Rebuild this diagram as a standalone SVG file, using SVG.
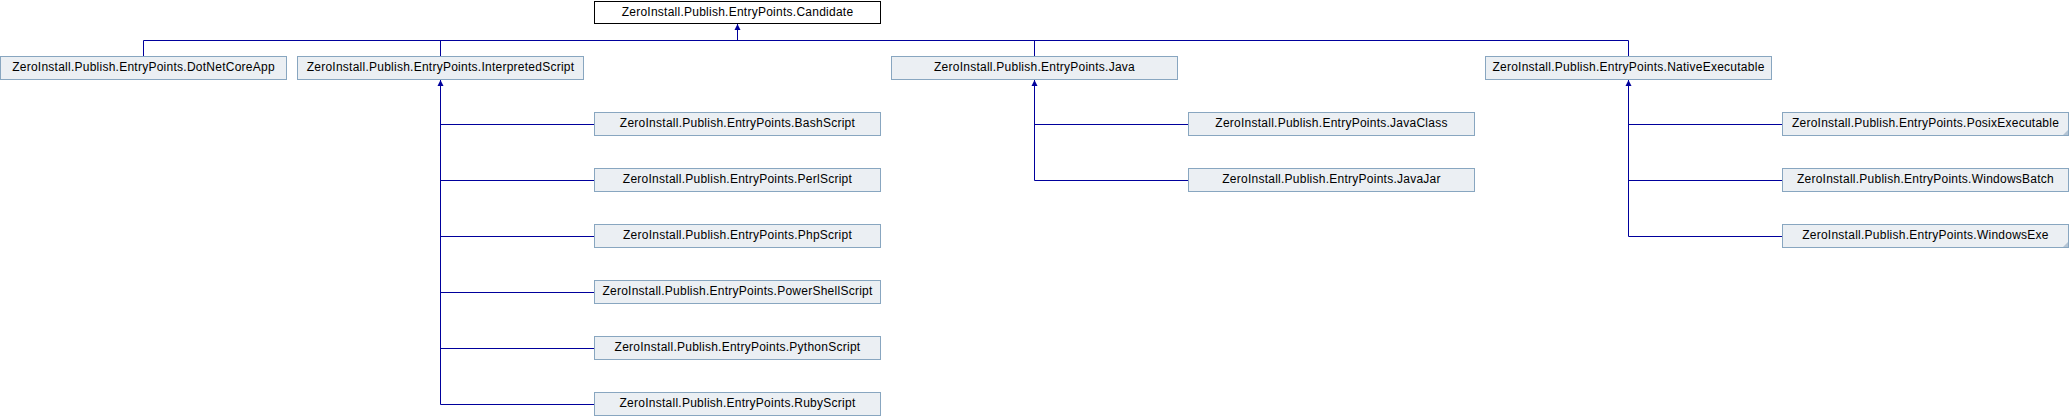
<svg xmlns="http://www.w3.org/2000/svg" width="2069" height="416" viewBox="0 0 2069 416">
<style>
.box rect{fill:#EBEFF3;stroke:#88A6C0;stroke-width:1}
.root rect{fill:#FFFFFF;stroke:#000000;stroke-width:1}
text{font-family:"Liberation Sans",Arial,sans-serif;font-size:12px;letter-spacing:0.25px;fill:#000000;text-anchor:middle}
.conn path{fill:none;stroke:#00009C;stroke-width:1}
.corner{fill:#B4C4D4;stroke:none}
</style>
<defs>
<marker id="arr" markerWidth="8" markerHeight="8" refX="6" refY="3.5" orient="auto" markerUnits="userSpaceOnUse">
<path d="M0,0.5 L6,3.5 L0,6.5 Z" fill="#00009C"/>
</marker>
</defs>
<rect width="2069" height="416" fill="#FFFFFF"/>
<g class="conn" id="connectors">
<path d="M143.5,56.5 V40.5 H1628.5 V56.5"/>
<path d="M440.5,40.5 V56.5"/>
<path d="M1034.5,40.5 V56.5"/>
<path d="M737.5,40.5 V24" marker-end="url(#arr)"/>
<path d="M440.5,404.5 V80" marker-end="url(#arr)"/>
<path d="M440.5,124.5 H594.5 M440.5,180.5 H594.5 M440.5,236.5 H594.5 M440.5,292.5 H594.5 M440.5,348.5 H594.5 M440.5,404.5 H594.5"/>
<path d="M1034.5,180.5 V80" marker-end="url(#arr)"/>
<path d="M1034.5,124.5 H1188.5 M1034.5,180.5 H1188.5"/>
<path d="M1628.5,236.5 V80" marker-end="url(#arr)"/>
<path d="M1628.5,124.5 H1782.5 M1628.5,180.5 H1782.5 M1628.5,236.5 H1782.5"/>
</g>
<g id="candidate" class="root"><rect x="594.5" y="1.5" width="286" height="22"/><text x="737.5" y="16">ZeroInstall.Publish.EntryPoints.Candidate</text></g>
<g id="dotnetcoreapp" class="box"><rect x="0.5" y="56.5" width="286" height="23"/><text x="143.5" y="71">ZeroInstall.Publish.EntryPoints.DotNetCoreApp</text></g>
<g id="interpretedscript" class="box"><rect x="297.5" y="56.5" width="286" height="23"/><text x="440.5" y="71">ZeroInstall.Publish.EntryPoints.InterpretedScript</text></g>
<g id="java" class="box"><rect x="891.5" y="56.5" width="286" height="23"/><text x="1034.5" y="71">ZeroInstall.Publish.EntryPoints.Java</text></g>
<g id="nativeexecutable" class="box"><rect x="1485.5" y="56.5" width="286" height="23"/><text x="1628.5" y="71">ZeroInstall.Publish.EntryPoints.NativeExecutable</text></g>
<g id="bashscript" class="box"><rect x="594.5" y="112.5" width="286" height="23"/><text x="737.5" y="127">ZeroInstall.Publish.EntryPoints.BashScript</text></g>
<g id="perlscript" class="box"><rect x="594.5" y="168.5" width="286" height="23"/><text x="737.5" y="183">ZeroInstall.Publish.EntryPoints.PerlScript</text></g>
<g id="phpscript" class="box"><rect x="594.5" y="224.5" width="286" height="23"/><text x="737.5" y="239">ZeroInstall.Publish.EntryPoints.PhpScript</text></g>
<g id="powershellscript" class="box"><rect x="594.5" y="280.5" width="286" height="23"/><text x="737.5" y="295">ZeroInstall.Publish.EntryPoints.PowerShellScript</text></g>
<g id="pythonscript" class="box"><rect x="594.5" y="336.5" width="286" height="23"/><text x="737.5" y="351">ZeroInstall.Publish.EntryPoints.PythonScript</text></g>
<g id="rubyscript" class="box"><rect x="594.5" y="392.5" width="286" height="23"/><text x="737.5" y="407">ZeroInstall.Publish.EntryPoints.RubyScript</text></g>
<g id="javaclass" class="box"><rect x="1188.5" y="112.5" width="286" height="23"/><text x="1331.5" y="127">ZeroInstall.Publish.EntryPoints.JavaClass</text></g>
<g id="javajar" class="box"><rect x="1188.5" y="168.5" width="286" height="23"/><text x="1331.5" y="183">ZeroInstall.Publish.EntryPoints.JavaJar</text></g>
<g id="posixexecutable" class="box"><rect x="1782.5" y="112.5" width="286" height="23"/><text x="1925.5" y="127">ZeroInstall.Publish.EntryPoints.PosixExecutable</text><path class="corner" d="M2068,130 L2068,135 L2063,135 Z"/></g>
<g id="windowsbatch" class="box"><rect x="1782.5" y="168.5" width="286" height="23"/><text x="1925.5" y="183">ZeroInstall.Publish.EntryPoints.WindowsBatch</text></g>
<g id="windowsexe" class="box"><rect x="1782.5" y="224.5" width="286" height="23"/><text x="1925.5" y="239">ZeroInstall.Publish.EntryPoints.WindowsExe</text><path class="corner" d="M2068,242 L2068,247 L2063,247 Z"/></g>
</svg>
